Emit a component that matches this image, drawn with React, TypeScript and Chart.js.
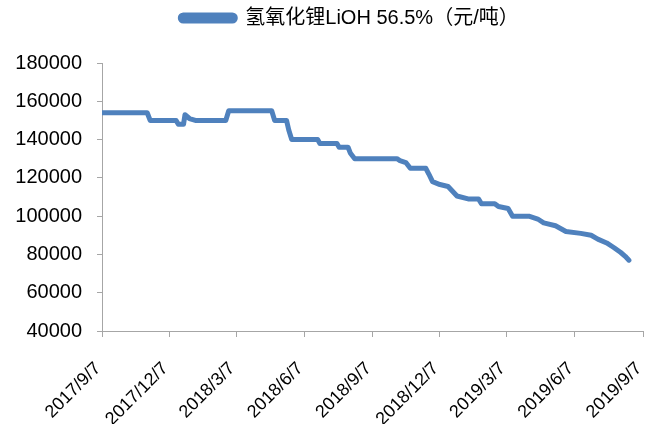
import React, { useEffect, useRef } from "react";
import { Chart, registerables } from "chart.js";

Chart.register(...registerables);

const START_DATE = "2017-09-07";
const TICK_DATES = ["2017-09-07", "2017-12-07", "2018-03-07", "2018-06-07", "2018-09-07", "2018-12-07", "2019-03-07", "2019-06-07", "2019-09-07"];
const TICK_LABELS = ["2017/9/7", "2017/12/7", "2018/3/7", "2018/6/7", "2018/9/7", "2018/12/7", "2019/3/7", "2019/6/7", "2019/9/7"];

const DATES = [
  "2017-09-07", "2017-11-07", "2017-11-11", "2017-12-16", "2017-12-19", "2017-12-26", "2017-12-28",
  "2018-01-03", "2018-01-11", "2018-02-21", "2018-02-25", "2018-04-24", "2018-04-28", "2018-05-14",
  "2018-05-17", "2018-05-21", "2018-06-25", "2018-06-28", "2018-07-21", "2018-07-24", "2018-08-05",
  "2018-08-08", "2018-08-14", "2018-10-10", "2018-10-14", "2018-10-22", "2018-10-28", "2018-11-18",
  "2018-11-22", "2018-11-27", "2018-12-07", "2018-12-18", "2018-12-24", "2018-12-30", "2019-01-14",
  "2019-01-28", "2019-02-01", "2019-02-19", "2019-02-24", "2019-03-09", "2019-03-15", "2019-04-06",
  "2019-04-18", "2019-04-26", "2019-05-12", "2019-05-26", "2019-06-15", "2019-06-29", "2019-07-08",
  "2019-07-20", "2019-07-30", "2019-08-08", "2019-08-14", "2019-08-19",
];
const PRICES = [
  154000, 154000, 150000, 150000, 148000, 148000, 153000,
  151000, 150000, 150000, 155000, 155000, 150000, 150000,
  145000, 140000, 140000, 138000, 138000, 136000, 136000,
  133000, 130000, 130000, 129000, 128000, 125000, 125000,
  122000, 118000, 116500, 115500, 113000, 110500, 109000,
  109000, 106500, 106500, 105000, 104000, 100000, 100000,
  98500, 96500, 95000, 92000, 91000, 90000, 88000,
  86000, 83500, 81000, 79000, 77000,
];

const SERIES_NAME = "氢氧化锂LiOH 56.5%（元/吨）";
const BLUE = "#4F81BD";
const AXIS = "#A6A6A6";
const FONT = "'Liberation Sans', Arial, 'Noto Sans CJK SC', sans-serif";

const dayOf = (s: string) => Math.round((Date.parse(s) - Date.parse(START_DATE)) / 86400000);

const LEGEND_DX = 28;
const legendTweak = {
  id: "legendTweak",
  beforeInit(chart: any) {
    const legend = chart.legend;
    if (!legend) return;
    const fit = legend.fit;
    legend.fit = function () {
      fit.call(this);
      this.height += 25;
    };
  },
  beforeDraw(chart: any) {
    const legend = chart.legend;
    if (legend) {
      legend.left += LEGEND_DX;
      legend.right += LEGEND_DX;
    }
  },
  afterDraw(chart: any) {
    const legend = chart.legend;
    if (legend) {
      legend.left -= LEGEND_DX;
      legend.right -= LEGEND_DX;
    }
  },
};

export default function App() {
  const ref = useRef<HTMLCanvasElement>(null);
  useEffect(() => {
    document.body.style.margin = "0";
    const tickDays = TICK_DATES.map(dayOf);
    const chart = new Chart(ref.current!, {
      type: "line",
      data: {
        datasets: [
          {
            label: SERIES_NAME,
            data: DATES.map((d, i) => ({ x: dayOf(d), y: PRICES[i] })),
            borderColor: BLUE,
            backgroundColor: BLUE,
            borderWidth: 5,
            pointRadius: 0,
            tension: 0,
            borderCapStyle: "round",
            borderJoinStyle: "round",
          },
        ],
      },
      plugins: [legendTweak],
      options: {
        animation: false,
        responsive: false,
        layout: { padding: { left: 0, right: 16, top: 0, bottom: 0 } },
        plugins: {
          legend: {
            position: "top",
            labels: {
              boxWidth: 55,
              boxHeight: 6,
              useBorderRadius: true,
              borderRadius: 3,
              color: "#000",
              font: { size: 20, family: FONT },
              padding: 8,
            },
          },
          tooltip: { enabled: false },
        },
        scales: {
          x: {
            type: "linear",
            min: 0,
            max: tickDays[tickDays.length - 1],
            afterBuildTicks: (scale: any) => {
              scale.ticks = tickDays.map((v) => ({ value: v }));
            },
            afterFit: (scale: any) => {
              scale.height = 93;
              scale.paddingLeft = 0;
              scale.paddingRight = 0;
            },
            ticks: {
              autoSkip: false,
              maxRotation: 45,
              minRotation: 45,
              color: "#000",
              font: { size: 18, family: FONT },
              padding: 21,
              labelOffset: -4,
              callback: (v: any) => {
                const i = tickDays.indexOf(Number(v));
                return i >= 0 ? TICK_LABELS[i] : "";
              },
            },
            grid: { drawOnChartArea: false, drawTicks: true, tickLength: 6, color: AXIS },
            border: { color: AXIS, width: 1 },
          },
          y: {
            min: 40000,
            max: 180000,
            afterFit: (scale: any) => {
              scale.width = 102;
            },
            ticks: {
              stepSize: 20000,
              color: "#000",
              font: { size: 20, family: FONT },
              padding: 15,
              callback: (v: any) => String(v),
            },
            grid: { drawOnChartArea: false, drawTicks: true, tickLength: 5, color: AXIS },
            border: { color: AXIS, width: 1 },
          },
        },
      },
    } as any);
    return () => chart.destroy();
  }, []);
  return <canvas ref={ref} width={659} height={424} />;
}
